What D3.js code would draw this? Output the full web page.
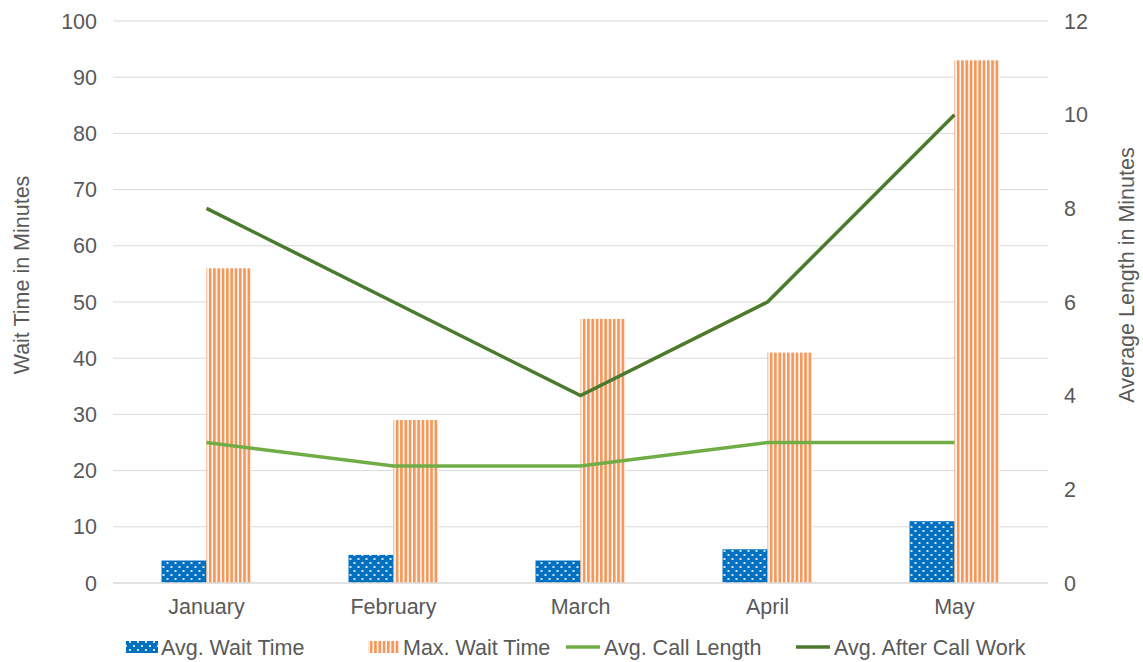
<!DOCTYPE html>
<html>
<head>
<meta charset="utf-8">
<script src="https://cdn.jsdelivr.net/npm/d3@7"></script>
<style>
  body { margin: 0; background: #fff; }
  text { font-family: "Liberation Sans", Arial, sans-serif; fill: #595959; }
</style>
</head>
<body>
<script>
// chart data
var months = ["January", "February", "March", "April", "May"];
var avgWait = [4, 5, 4, 6, 11];
var maxWait = [56, 29, 47, 41, 93];
var avgCallLength = [3, 2.5, 2.5, 3, 3];
var avgAfterCall = [8, 6, 4, 6, 10];
var leftTicks = [0, 10, 20, 30, 40, 50, 60, 70, 80, 90, 100];
var rightTicks = [0, 2, 4, 6, 8, 10, 12];

var W = 1143, H = 662;
var margin = {top: 21, right: 95, bottom: 79, left: 113};
var width = W - margin.left - margin.right,
  height = H - margin.top - margin.bottom;
var fs = "21.5px";

var svg = d3.select("body").append("svg")
  .attr("width", W)
  .attr("height", H);

// fill patterns
var defs = svg.append("defs");
var dots = defs.append("pattern")
  .attr("id", "dots")
  .attr("patternUnits", "userSpaceOnUse")
  .attr("width", 8).attr("height", 8);
dots.append("rect").attr("width", 8).attr("height", 8).attr("fill", "#0070C0");
dots.append("circle").attr("cx", 2).attr("cy", 2).attr("r", 1.1).attr("fill", "#fff");
dots.append("circle").attr("cx", 6).attr("cy", 6).attr("r", 1.1).attr("fill", "#fff");

var stripes = defs.append("pattern")
  .attr("id", "stripes")
  .attr("patternUnits", "userSpaceOnUse")
  .attr("width", 4.3).attr("height", 4);
stripes.append("rect").attr("width", 4.3).attr("height", 4).attr("fill", "#fff");
stripes.append("rect").attr("width", 2.8).attr("height", 4).attr("fill", "#F29A5E");

var g = svg.append("g")
  .attr("transform", "translate(" + margin.left + "," + margin.top + ")");

var x = d3.scaleBand().domain(months).range([0, width]);
var xInner = d3.scaleBand().domain(["avg", "max"]).range([0, 90]);
var yL = d3.scaleLinear().domain([0, 100]).range([height, 0]);
var yR = d3.scaleLinear().domain([0, 12]).range([height, 0]);

// gridlines
g.selectAll("line.grid")
  .data(leftTicks.slice(1))
  .enter().append("line")
  .attr("class", "grid")
  .attr("x1", 0).attr("x2", width)
  .attr("y1", function(d) { return yL(d); })
  .attr("y2", function(d) { return yL(d); })
  .attr("stroke", "#d9d9d9").attr("stroke-width", 1);

// left axis labels
g.selectAll("text.yl")
  .data(leftTicks)
  .enter().append("text")
  .attr("class", "yl")
  .attr("x", -16)
  .attr("y", function(d) { return yL(d); })
  .attr("dy", "0.35em")
  .attr("text-anchor", "end")
  .style("font-size", fs)
  .text(function(d) { return d; });

// right axis labels
g.selectAll("text.yr")
  .data(rightTicks)
  .enter().append("text")
  .attr("class", "yr")
  .attr("x", width + 16)
  .attr("y", function(d) { return yR(d); })
  .attr("dy", "0.35em")
  .attr("text-anchor", "start")
  .style("font-size", fs)
  .text(function(d) { return d; });

// bars
var groups = g.selectAll("g.month")
  .data(months)
  .enter().append("g")
  .attr("class", "month")
  .attr("transform", function(d) { return "translate(" + (x(d) + x.bandwidth() / 2 - 45) + ",0)"; });

groups.append("rect")
  .attr("x", xInner("avg"))
  .attr("width", xInner.bandwidth())
  .attr("y", function(d, i) { return yL(avgWait[i]); })
  .attr("height", function(d, i) { return height - yL(avgWait[i]); })
  .attr("fill", "url(#dots)");

groups.append("rect")
  .attr("x", xInner("max"))
  .attr("width", xInner.bandwidth())
  .attr("y", function(d, i) { return yL(maxWait[i]); })
  .attr("height", function(d, i) { return height - yL(maxWait[i]); })
  .attr("fill", "url(#stripes)");

// x axis line
g.append("line")
  .attr("x1", 0).attr("x2", width)
  .attr("y1", height).attr("y2", height)
  .attr("stroke", "#d9d9d9").attr("stroke-width", 1.5);

// x labels
g.selectAll("text.xl")
  .data(months)
  .enter().append("text")
  .attr("class", "xl")
  .attr("x", function(d) { return x(d) + x.bandwidth() / 2; })
  .attr("y", height + 31)
  .attr("text-anchor", "middle")
  .style("font-size", fs)
  .text(function(d) { return d; });

// lines on the right axis
var line = function(vals) {
  return d3.line()
    .x(function(d, i) { return x(months[i]) + x.bandwidth() / 2; })
    .y(function(d) { return yR(d); })(vals);
};

g.append("path")
  .attr("d", line(avgCallLength))
  .attr("fill", "none")
  .attr("stroke", "#70AD47")
  .attr("stroke-width", 3.5);

g.append("path")
  .attr("d", line(avgAfterCall))
  .attr("fill", "none")
  .attr("stroke", "#4B7A2F")
  .attr("stroke-width", 3.5);

// axis titles
svg.append("text")
  .attr("transform", "translate(29,275) rotate(-90)")
  .attr("text-anchor", "middle")
  .style("font-size", fs)
  .text("Wait Time in Minutes");

svg.append("text")
  .attr("transform", "translate(1134,275) rotate(-90)")
  .attr("text-anchor", "middle")
  .style("font-size", fs)
  .text("Average Length in Minutes");

// legend
var legendItems = [
  {name: "Avg. Wait Time", type: "rect", fill: "url(#dots)", x: 126},
  {name: "Max. Wait Time", type: "rect", fill: "url(#stripes)", x: 368},
  {name: "Avg. Call Length", type: "line", fill: "#70AD47", x: 566},
  {name: "Avg. After Call Work", type: "line", fill: "#4B7A2F", x: 796}
];
var ly = 647;
legendItems.forEach(function(it) {
  if (it.type === "rect") {
    svg.append("rect")
      .attr("x", it.x).attr("y", ly - 6)
      .attr("width", 32).attr("height", 12)
      .attr("fill", it.fill);
  } else {
    svg.append("line")
      .attr("x1", it.x).attr("x2", it.x + 34)
      .attr("y1", ly).attr("y2", ly)
      .attr("stroke", it.fill).attr("stroke-width", 3.5);
  }
  svg.append("text")
    .attr("x", it.x + (it.type === "rect" ? 35 : 38))
    .attr("y", ly)
    .attr("dy", "0.35em")
    .style("font-size", fs)
    .text(it.name);
});
</script>
</body>
</html>
